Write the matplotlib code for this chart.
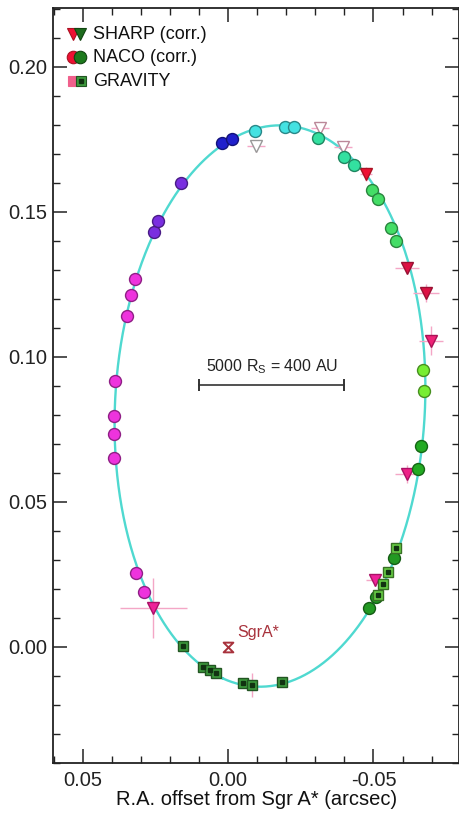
import numpy as np
import matplotlib
matplotlib.use('Agg')
import matplotlib.pyplot as plt
from matplotlib.path import Path
from matplotlib.ticker import MultipleLocator

plt.rcParams['font.family'] = ['Liberation Sans', 'DejaVu Sans']
plt.rcParams['mathtext.default'] = 'regular'

# ---------------- data ----------------
# Orbital elements of the plotted S2 orbit model
orb_a = 0.1255        # arcsec
orb_e = 0.88466
orb_i = 134.70        # deg
orb_Omega = 228.171   # deg
orb_omega = 66.263    # deg

# NACO (corr.) positions  (RA offset, Dec offset) in arcsec
naco_x = [0.0316, 0.0289, 0.0392, 0.0392, 0.0392, 0.0388, 0.0347, 0.0333, 0.0320,
          0.0254, 0.0241, 0.0162, 0.0021, -0.0014, -0.0093, -0.0196, -0.0227,
          -0.0309, -0.0399, -0.0433, -0.0495, -0.0515, -0.0560, -0.0577,
          -0.0670, -0.0674, -0.0663, -0.0653, -0.0570, -0.0509, -0.0485]
naco_y = [0.0255, 0.0190, 0.0652, 0.0734, 0.0797, 0.0917, 0.1141, 0.1214, 0.1269,
          0.1431, 0.1469, 0.1600, 0.1738, 0.1752, 0.1779, 0.1793, 0.1793,
          0.1755, 0.1690, 0.1662, 0.1576, 0.1545, 0.1445, 0.1400,
          0.0955, 0.0883, 0.0693, 0.0614, 0.0307, 0.0172, 0.0134]
naco_colors = ['#ee33dd'] * 9 + ['#7a2ee0'] * 3 + ['#2020cc'] * 2 + ['#44e2e2'] * 3 + \
              ['#33e0a0'] * 3 + ['#44dd66'] * 4 + ['#77ee33'] * 2 + ['#22aa22'] * 2 + ['#229922'] * 3

# SHARP (corr.) positions
sharp_x = [0.0258, -0.0096, -0.0316, -0.0395, -0.0474, -0.0615, -0.0680, -0.0698, -0.0615, -0.0505]
sharp_y = [0.0134, 0.1728, 0.1790, 0.1724, 0.1631, 0.1307, 0.1221, 0.1055, 0.0597, 0.0231]
sharp_xerr = [0.0115, 0.0030, 0.0030, 0.0030, 0.0020, 0.0040, 0.0045, 0.0040, 0.0040, 0.0030]
sharp_yerr = [0.0103, 0.0020, 0.0020, 0.0020, 0.0025, 0.0015, 0.0030, 0.0050, 0.0030, 0.0020]
sharp_face = ['#ee2299', 'white', 'white', 'white', '#ee1133', '#dd1144', '#dd1144',
              '#ee2277', '#ee2288', '#ee2299']
sharp_edge = ['#aa1166', '#999999', '#bb8899', '#bb8899', '#aa1122', '#991133', '#991133',
              '#aa1155', '#aa1166', '#aa1166']

# GRAVITY positions
grav_x = [0.0155, 0.0086, 0.0062, 0.0041, -0.0052, -0.0082, -0.0186,
          -0.0515, -0.0533, -0.0550, -0.0577]
grav_y = [0.0003, -0.0069, -0.0079, -0.0090, -0.0124, -0.0131, -0.0121,
          0.0179, 0.0217, 0.0259, 0.0341]
grav_colors = ['#3d9a3d'] * 7 + ['#66cc44'] * 4

# ---------------- figure ----------------
W, H = 459, 814
fig = plt.figure(figsize=(W / 100, H / 100), dpi=100)
ax = fig.add_axes([53 / W, (H - 763) / H, 406.5 / W, 755 / H])

# orbit model
E = np.linspace(0, 2 * np.pi, 800)
w, Om, inc = np.radians(orb_omega), np.radians(orb_Omega), np.radians(orb_i)
A = np.cos(w) * np.cos(Om) - np.sin(w) * np.sin(Om) * np.cos(inc)
B = np.cos(w) * np.sin(Om) + np.sin(w) * np.cos(Om) * np.cos(inc)
F = -np.sin(w) * np.cos(Om) - np.cos(w) * np.sin(Om) * np.cos(inc)
G = -np.sin(w) * np.sin(Om) + np.cos(w) * np.cos(Om) * np.cos(inc)
X = np.cos(E) - orb_e
Y = np.sqrt(1 - orb_e ** 2) * np.sin(E)
dec = orb_a * (A * X + F * Y)
ra = orb_a * (B * X + G * Y)
ax.plot(ra, dec, color='#4fd9d0', lw=1.7, zorder=1)

# SHARP error bars + markers
ax.errorbar(sharp_x, sharp_y, xerr=sharp_xerr, yerr=sharp_yerr, fmt='none',
            ecolor='#f4a6c6', elinewidth=1.0, zorder=2)
for x, y, fc, ec in zip(sharp_x, sharp_y, sharp_face, sharp_edge):
    ax.plot(x, y, marker='v', ms=9, mfc=fc, mec=ec, mew=1.0, ls='none', zorder=4)

# NACO markers
for x, y, c in zip(naco_x, naco_y, naco_colors):
    rgb = np.array(matplotlib.colors.to_rgb(c))
    ax.plot(x, y, marker='o', ms=8.6, mfc=c, mec=rgb * 0.6, mew=1.0, ls='none', zorder=5)

# GRAVITY markers
ax.errorbar([grav_x[0], grav_x[5]], [grav_y[0], grav_y[5]], xerr=[0.0015, 0.0],
            yerr=[0.0015, 0.004], fmt='none', ecolor='#f4a6c6', elinewidth=1.0, zorder=2)
for x, y, c in zip(grav_x, grav_y, grav_colors):
    rgb = np.array(matplotlib.colors.to_rgb(c))
    ax.plot(x, y, marker='s', ms=7.5, mfc=c, mec=rgb * 0.55, mew=1.0, ls='none', zorder=6)
    ax.plot(x, y, marker='s', ms=2.2, mfc='#113311', mec='#113311', ls='none', zorder=7)

# Sgr A*
hourglass = Path([(-1, 1), (1, 1), (-1, -1), (1, -1), (-1, 1)],
                 [Path.MOVETO, Path.LINETO, Path.LINETO, Path.LINETO, Path.CLOSEPOLY])
ax.plot(0, 0, marker=hourglass, ms=7, mfc='none', mec='#a8323c', mew=1.4, ls='none', zorder=8)
ax.text(-0.0031, 0.0050, 'SgrA*', color='#a8323c', fontsize=11.5, ha='left', va='center')

# scale bar
ax.plot([0.010, -0.040], [0.0903, 0.0903], color='#333333', lw=1.2,
        marker='|', ms=9, mew=1.4, zorder=3)
ax.text(-0.015, 0.0968, '5000 R$_{S}$ = 400 AU', color='#222222', fontsize=11.5,
        ha='center', va='center')

# manual legend (axes coords)
def lg(xa, ya, **kw):
    ax.plot([xa], [ya], transform=ax.transAxes, clip_on=False, ls='none', **kw)

rows = [0.9655, 0.9345, 0.903]
lg(0.049, rows[0], marker='v', ms=8, mfc='#ee1133', mec='#aa1122', mew=0.8)
lg(0.067, rows[0], marker='v', ms=8, mfc='#1d6b1d', mec='#114411', mew=0.8)
lg(0.050, rows[1], marker='o', ms=9, mfc='#ee1133', mec='#aa1122', mew=0.8)
lg(0.066, rows[1], marker='o', ms=9, mfc='#1d7a1d', mec='#114411', mew=0.8)
lg(0.050, rows[2], marker='s', ms=7.5, mfc='#f0608c', mec='#f0608c', mew=0.8)
lg(0.068, rows[2], marker='s', ms=7.5, mfc='#3d9a3d', mec='#225522', mew=0.8)
lg(0.068, rows[2], marker='s', ms=2.2, mfc='#113311', mec='#113311')
for ya, lab in zip(rows, ['SHARP (corr.)', 'NACO (corr.)', 'GRAVITY']):
    ax.text(0.098, ya, lab, transform=ax.transAxes, fontsize=13, ha='left', va='center',
            color='#111111')

# axes styling
ax.set_xlim(0.0603, -0.0796)
ax.set_ylim(-0.0400, 0.2203)
ax.xaxis.set_major_locator(MultipleLocator(0.05))
ax.xaxis.set_minor_locator(MultipleLocator(0.01))
ax.yaxis.set_major_locator(MultipleLocator(0.05))
ax.yaxis.set_minor_locator(MultipleLocator(0.01))
ax.xaxis.set_major_formatter(matplotlib.ticker.FormatStrFormatter('%.2f'))
ax.yaxis.set_major_formatter(matplotlib.ticker.FormatStrFormatter('%.2f'))
ax.tick_params(which='both', direction='in', top=True, right=True, colors='#222222',
               labelsize=14.5)
ax.tick_params(which='major', length=10, width=1.1)
ax.tick_params(which='minor', length=5, width=1.0)
ax.tick_params(axis='x', pad=6)
ax.tick_params(axis='y', pad=4)
for s in ax.spines.values():
    s.set_linewidth(1.3)
    s.set_color('#222222')
ax.set_xlabel('R.A. offset from Sgr A* (arcsec)', fontsize=14.5, labelpad=0, color='#111111')

fig.savefig('out.png', dpi=100)
